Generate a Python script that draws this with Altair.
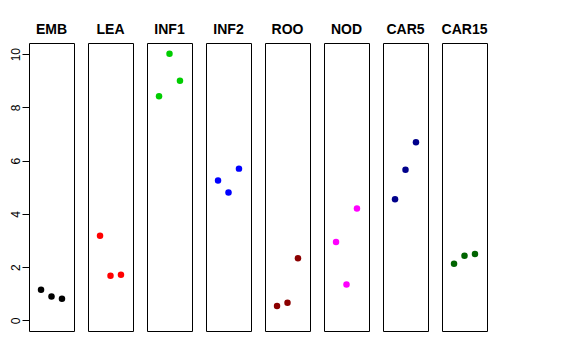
import altair as alt
import pandas as pd

groups = ["EMB", "LEA", "INF1", "INF2", "ROO", "NOD", "CAR5", "CAR15"]
colors = ["#000000", "#FF0000", "#00CD00", "#0000FF", "#8B0000", "#FF00FF", "#00008B", "#006400"]
replicate = [1, 2, 3]

emb = [1.15, 0.90, 0.81]
lea = [3.18, 1.68, 1.71]
inf1 = [8.42, 10.02, 9.00]
inf2 = [5.25, 4.80, 5.70]
roo = [0.54, 0.66, 2.33]
nod = [2.94, 1.35, 4.20]
car5 = [4.55, 5.66, 6.69]
car15 = [2.13, 2.43, 2.49]

series = [emb, lea, inf1, inf2, roo, nod, car5, car15]
y_ticks = [0, 2, 4, 6, 8, 10]

charts = []
for i, (g, col, vals) in enumerate(zip(groups, colors, series)):
    df = pd.DataFrame({"rep": replicate, "value": vals})
    if i == 0:
        yaxis = alt.Axis(values=y_ticks, labelAngle=270, tickSize=7, domain=False,
                         grid=False, title=None, labelFontSize=12,
                         labelFont="Liberation Sans", tickColor="black",
                         labelColor="black", labelPadding=0)
    else:
        yaxis = None
    c = alt.Chart(df, title=alt.TitleParams(g, fontSize=14, fontWeight="bold",
                                            font="Liberation Sans", offset=6,
                                            anchor="middle", color="black")).mark_circle(
        size=42, opacity=1, color=col
    ).encode(
        x=alt.X("rep:Q", scale=alt.Scale(domain=[-0.15, 4.15], nice=False, zero=False), axis=None),
        y=alt.Y("value:Q", scale=alt.Scale(domain=[-0.40, 10.42], nice=False, zero=False), axis=yaxis),
    ).properties(width=45, height=288)
    charts.append(c)

chart = alt.hconcat(*charts, spacing=14, bounds="flush").configure_view(
    stroke="black", strokeWidth=1
).properties(background="white", padding={"left": 0, "top": 14, "right": 5, "bottom": 5})

chart.save("out.html", embed_options={"renderer": "svg", "actions": False})
